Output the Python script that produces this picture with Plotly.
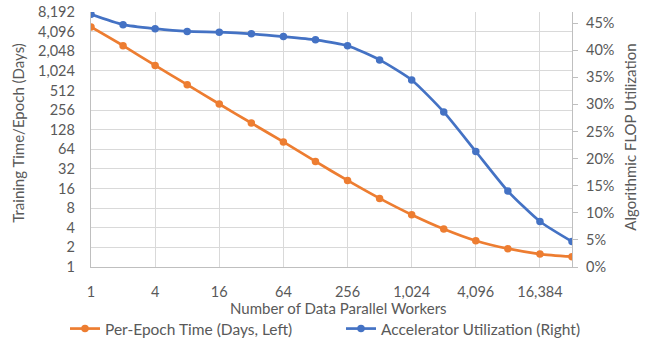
import plotly.graph_objects as go

workers = [1, 2, 4, 8, 16, 32, 64, 128, 256, 512, 1024, 2048, 4096, 8192, 16384, 32768]
epoch_days = [4820, 2490, 1240, 628, 317, 162, 83, 41.7, 21.3, 11.3, 6.35, 3.83, 2.53, 1.91, 1.58, 1.44]
utilization = [0.466, 0.447, 0.4395, 0.4345, 0.433, 0.430, 0.425, 0.419, 0.408, 0.382,
               0.345, 0.286, 0.213, 0.140, 0.084, 0.047]

x_tickvals = [1, 4, 16, 64, 256, 1024, 4096, 16384]
x_ticktext = ["1", "4", "16", "64", "256", "1,024", "4,096", "16,384"]
y_tickvals = [1, 2, 4, 8, 16, 32, 64, 128, 256, 512, 1024, 2048, 4096, 8192]
y_ticktext = ["1", "2", "4", "8", "16", "32", "64", "128", "256", "512", "1,024", "2,048", "4,096", "8,192"]

FONT = "Lato, Open Sans, sans-serif"
GREY = "#595959"
ORANGE = "#ED7D31"
BLUE = "#4472C4"
W, H = 645, 341

fig = go.Figure()
fig.add_trace(go.Scatter(
    x=workers, y=epoch_days, name="Per-Epoch Time (Days, Left)",
    mode="lines+markers", line=dict(color=ORANGE, width=2.7, shape="spline", smoothing=0.6),
    marker=dict(color=ORANGE, size=7.5), yaxis="y", legend="legend"))
fig.add_trace(go.Scatter(
    x=workers, y=utilization, name="Accelerator Utilization (Right)",
    mode="lines+markers", line=dict(color=BLUE, width=2.7, shape="spline", smoothing=0.6),
    marker=dict(color=BLUE, size=7.5), yaxis="y2", legend="legend2"))

leg_common = dict(orientation="h", xanchor="left", xref="container",
                  yanchor="middle", yref="container", y=1 - 329 / H,
                  font=dict(size=15.5, color=GREY), itemwidth=30,
                  bgcolor="rgba(0,0,0,0)")

fig.update_layout(
    width=W, height=H,
    margin=dict(l=91, r=73, t=12, b=74, autoexpand=False),
    paper_bgcolor="white", plot_bgcolor="white",
    font=dict(family=FONT, size=14.5, color=GREY),
    showlegend=True,
    legend=dict(x=65 / W, **leg_common),
    legend2=dict(x=341 / W, **leg_common),
    xaxis=dict(type="log", range=[0, 4.5154], tickvals=x_tickvals, ticktext=x_ticktext,
               showgrid=True, gridcolor="#D9D9D9", gridwidth=1.3,
               showline=True, linecolor="#BFBFBF", linewidth=1.3, automargin=False,
               ticks="", zeroline=False, ticklabelstandoff=11),
    yaxis=dict(type="log", range=[0, 3.91339], tickvals=y_tickvals, ticktext=y_ticktext,
               showgrid=True, gridcolor="#D9D9D9", gridwidth=1.3,
               showline=True, linecolor="#BFBFBF", linewidth=1.3, automargin=False,
               ticks="", zeroline=False, ticklabelstandoff=12),
    yaxis2=dict(overlaying="y", side="right", range=[0, 0.4703], dtick=0.05, tick0=0,
                tickformat=".0%", showgrid=False, zeroline=False, automargin=False,
                showline=True, linecolor="#BFBFBF", linewidth=1.3,
                ticks="outside", ticklen=5, tickcolor="#BFBFBF", ticklabelstandoff=5),
    annotations=[
        dict(text="Number of Data Parallel Workers", xref="paper", yref="paper",
             x=(338.5 - 91) / 481, y=(267.3 - 308) / 255, xanchor="center", yanchor="middle",
             showarrow=False, font=dict(size=15, color=GREY)),
        dict(text="Training Time/Epoch (Days)", xref="paper", yref="paper",
             x=(18 - 91) / 481, y=(267.3 - 133) / 255, xanchor="center", yanchor="middle",
             textangle=-90, showarrow=False, font=dict(size=15, color=GREY)),
        dict(text="Algorithmic FLOP Utilization", xref="paper", yref="paper",
             x=(630 - 91) / 481, y=(267.3 - 138) / 255, xanchor="center", yanchor="middle",
             textangle=-90, showarrow=False, font=dict(size=15, color=GREY)),
    ],
)

fig.write_html("out.html")
